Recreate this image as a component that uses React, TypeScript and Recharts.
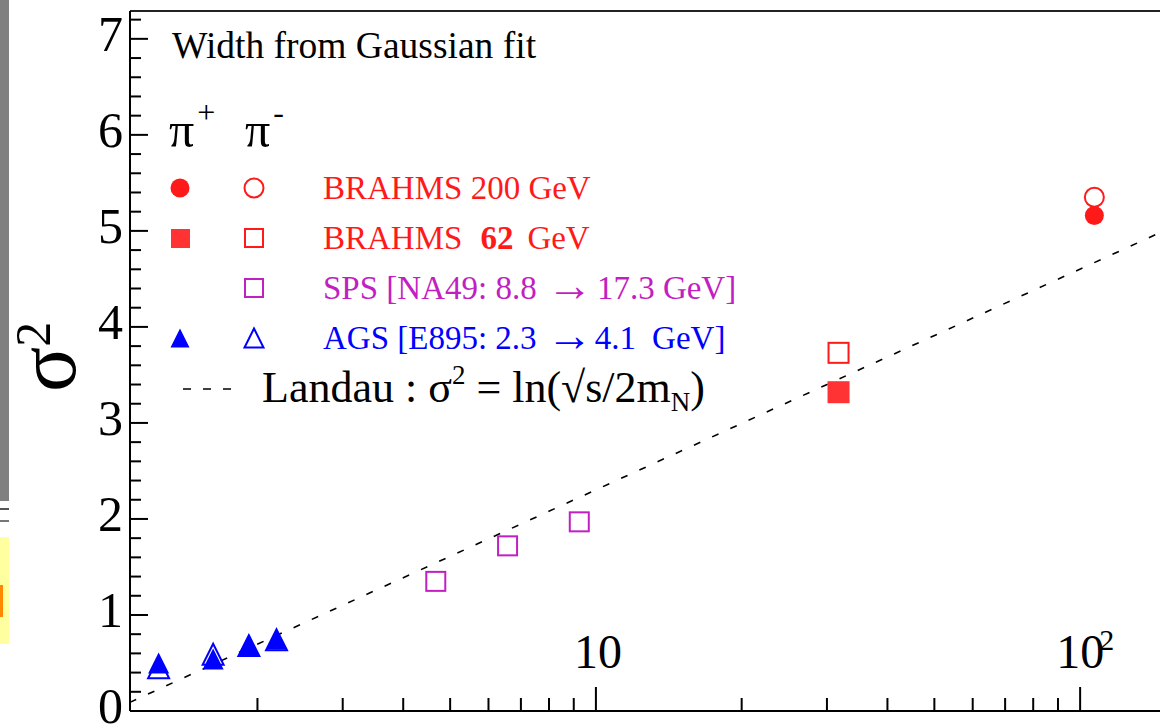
import { ScatterChart, Scatter, XAxis, YAxis, ReferenceLine } from "recharts";

// x = sqrt(s) / 2m_N, y = sigma^2 (rapidity width squared)
const agsX = [1.25, 1.62, 1.92, 2.19];
const agsPiPlus = [0.49, 0.53, 0.68, 0.74];
const agsPiMinus = [0.44, 0.58, 0.67, 0.73];

const spsX = [4.67, 6.57, 9.24];
const spsPiMinus = [1.35, 1.72, 1.97];

const brahms62X = [31.7];
const brahms62PiPlus = [3.32];
const brahms62PiMinus = [3.73];

const brahms200X = [107];
const brahms200PiPlus = [5.16];
const brahms200PiMinus = [5.35];

const landauX = [1.09, 146];
const landauY = [0.09, 4.98];

const xTicks = [2, 3, 4, 5, 6, 7, 8, 9, 10, 20, 30, 40, 50, 60, 70, 80, 90, 100];
const yTicks = [
  0, 0.2, 0.4, 0.6, 0.8, 1, 1.2, 1.4, 1.6, 1.8, 2, 2.2, 2.4, 2.6, 2.8, 3, 3.2, 3.4, 3.6, 3.8,
  4, 4.2, 4.4, 4.6, 4.8, 5, 5.2, 5.4, 5.6, 5.8, 6, 6.2, 6.4, 6.6, 6.8, 7, 7.2,
];

const xDomain = [1.091, 146.2];
const yDomain = [0, 7.29];

const RED = "#ff1a1a";
const RED_FILL = "#ff3333";
const PURPLE = "#c21fc2";
const BLUE = "#0000ff";
const FONT = '"Liberation Serif", "Times New Roman", serif';

const pts = (xs: number[], ys: number[]) => xs.map((x, i) => ({ x, y: ys[i] }));

const tri = (cx: number, cy: number, s: number) =>
  `${cx},${cy - s * 0.55} ${cx + s / 2},${cy + s * 0.45} ${cx - s / 2},${cy + s * 0.45}`;

const FilledCircle = (p: any) => <circle cx={p.cx} cy={p.cy} r={9.5} fill={RED} />;
const OpenCircle = (p: any) => <circle cx={p.cx} cy={p.cy} r={9.5} fill="none" stroke={RED} strokeWidth={2} />;
const FilledSquare = (p: any) => <rect x={p.cx - 11} y={p.cy - 11} width={22} height={22} fill={RED_FILL} />;
const OpenSquare = (p: any) => (
  <rect x={p.cx - 10} y={p.cy - 10} width={20} height={20} fill="none" stroke={RED} strokeWidth={2} />
);
const PurpleSquare = (p: any) => (
  <rect x={p.cx - 9.5} y={p.cy - 9.5} width={19} height={19} fill="none" stroke={PURPLE} strokeWidth={2} />
);
const FilledTri = (p: any) => <polygon points={tri(p.cx, p.cy, 21)} fill={BLUE} />;
const OpenTri = (p: any) => <polygon points={tri(p.cx, p.cy, 21)} fill="none" stroke={BLUE} strokeWidth={2} />;
const NoDot = () => <g />;

const XTick = (props: any) => {
  const { x, y, payload } = props;
  const v = payload.value;
  const major = v === 10 || v === 100;
  return (
    <g>
      <line x1={x} x2={x} y1={y} y2={y - (major ? 24 : 13)} stroke="#000" strokeWidth={2} />
      {v === 10 && (
        <text x={x + 2} y={y - 43} textAnchor="middle" fontSize={48} fontFamily={FONT} fill="#000">
          10
        </text>
      )}
      {v === 100 && (
        <g fontFamily={FONT} fill="#000">
          <text x={x} y={y - 43} textAnchor="middle" fontSize={48}>
            10
          </text>
          <text x={x + 19} y={y - 61} fontSize={30}>
            2
          </text>
        </g>
      )}
    </g>
  );
};

const YTick = (props: any) => {
  const { x, y, payload } = props;
  const v = payload.value;
  const major = Number.isInteger(v);
  return (
    <g>
      <line x1={x} x2={x + (major ? 18 : 11)} y1={y} y2={y} stroke="#000" strokeWidth={2} />
      {major && (
        <text x={x - 7} y={y + 12} textAnchor="end" fontSize={50} fontFamily={FONT} fill="#000">
          {v}
        </text>
      )}
    </g>
  );
};

const Arrow = () => (
  <tspan fontSize={46} dx={2} dy={2}>
    →
  </tspan>
);

const LegendOverlay = () => (
  <svg width={1160} height={724} style={{ position: "absolute", left: 0, top: 0, pointerEvents: "none" }}>
    <text x={172} y={58} fontSize={37.5} fontFamily={FONT} fill="#000">
      Width from Gaussian fit
    </text>
    <g fontFamily={FONT} fill="#000">
      <text x={169} y={147} fontSize={50}>
        π<tspan dy={-24} dx={3} fontSize={32}>+</tspan>
      </text>
      <text x={245} y={147} fontSize={50}>
        π<tspan dy={-24} dx={3} fontSize={32}>-</tspan>
      </text>
    </g>
    <FilledCircle cx={180} cy={188} />
    <OpenCircle cx={254} cy={188} />
    <g fontSize={33} fontFamily={FONT}>
      <text x={323} y={199} fill={RED}>
        BRAHMS 200 GeV
      </text>
      <rect x={171} y={229} width={19} height={19} fill={RED_FILL} />
      <rect x={245} y={229} width={18} height={18} fill="none" stroke={RED} strokeWidth={2} />
      <text x={323} y={249} fill={RED}>
        BRAHMS
        <tspan dx={18} fontWeight="bold">62</tspan>
        <tspan dx={14}>GeV</tspan>
      </text>
      <rect x={245} y={279} width={18} height={18} fill="none" stroke={PURPLE} strokeWidth={2} />
      <text x={323} y={299} fill={PURPLE}>
        SPS [NA49: 8.8 <Arrow />
        <tspan dx={4} dy={-2}>17.3 GeV]</tspan>
      </text>
      <polygon points={tri(180, 339, 19)} fill={BLUE} />
      <polygon points={tri(254, 339, 19)} fill="none" stroke={BLUE} strokeWidth={2} />
      <text x={323} y={349} fill={BLUE}>
        AGS [E895: 2.3 <Arrow />
        <tspan dx={2} dy={-2}>4.1</tspan>
        <tspan dx={16}>GeV]</tspan>
      </text>
    </g>
    <line x1={183} x2={233} y1={389} y2={389} stroke="#000" strokeWidth={1.6} strokeDasharray="8 12" />
    <text x={262} y={402} fontSize={44} fontFamily={FONT} fill="#000">
      Landau : σ<tspan dy={-18} fontSize={27}>2</tspan>
      <tspan dy={18}> = ln(√s/2m</tspan>
      <tspan dy={9} fontSize={27}>N</tspan>
      <tspan dy={-9}>)</tspan>
    </text>
    <text transform="translate(75, 392) rotate(-90)" fontFamily={FONT} fill="#000">
      <tspan fontSize={84}>σ</tspan>
      <tspan fontSize={50} dy={-25}>2</tspan>
    </text>
  </svg>
);

export default function App() {
  return (
    <div style={{ position: "absolute", left: 0, top: 0, width: 1160, height: 724, overflow: "hidden", background: "#fff" }}>
      {/* cropped-page remnants on the far left */}
      <div style={{ position: "absolute", left: 0, top: 0, width: 9, height: 501, background: "#808080" }} />
      <div style={{ position: "absolute", left: 0, top: 508, width: 9, height: 2, background: "#555" }} />
      <div style={{ position: "absolute", left: 0, top: 520, width: 9, height: 2, background: "#777" }} />
      <div style={{ position: "absolute", left: 0, top: 537, width: 9, height: 107, background: "#ffffa0" }} />
      <div style={{ position: "absolute", left: 0, top: 585, width: 3, height: 32, background: "#ff8800" }} />
      <ScatterChart width={1160} height={724} margin={{ top: 11, right: 0, bottom: 0, left: 0 }}>
        <XAxis
          dataKey="x"
          type="number"
          scale="log"
          domain={xDomain}
          allowDataOverflow
          ticks={xTicks}
          interval={0}
          tick={<XTick />}
          tickLine={false}
          tickSize={0}
          tickMargin={0}
          height={13}
          axisLine={{ stroke: "#000", strokeWidth: 2 }}
        />
        <YAxis
          dataKey="y"
          type="number"
          domain={yDomain}
          allowDataOverflow
          ticks={yTicks}
          interval={0}
          tick={<YTick />}
          tickLine={false}
          tickSize={0}
          tickMargin={0}
          width={130}
          axisLine={{ stroke: "#000", strokeWidth: 2 }}
        />
        <ReferenceLine y={yDomain[1]} stroke="#222" strokeWidth={2} />
        <Scatter
          data={pts(landauX, landauY)}
          shape={NoDot}
          line={{ stroke: "#000", strokeWidth: 1.6, strokeDasharray: "7 13" }}
          isAnimationActive={false}
        />
        <Scatter data={pts(spsX, spsPiMinus)} shape={PurpleSquare} isAnimationActive={false} />
        <Scatter data={pts(agsX, agsPiPlus)} shape={FilledTri} isAnimationActive={false} />
        <Scatter data={pts(agsX, agsPiMinus)} shape={OpenTri} isAnimationActive={false} />
        <Scatter data={pts(brahms62X, brahms62PiMinus)} shape={OpenSquare} isAnimationActive={false} />
        <Scatter data={pts(brahms62X, brahms62PiPlus)} shape={FilledSquare} isAnimationActive={false} />
        <Scatter data={pts(brahms200X, brahms200PiMinus)} shape={OpenCircle} isAnimationActive={false} />
        <Scatter data={pts(brahms200X, brahms200PiPlus)} shape={FilledCircle} isAnimationActive={false} />
      </ScatterChart>
      <LegendOverlay />
    </div>
  );
}
